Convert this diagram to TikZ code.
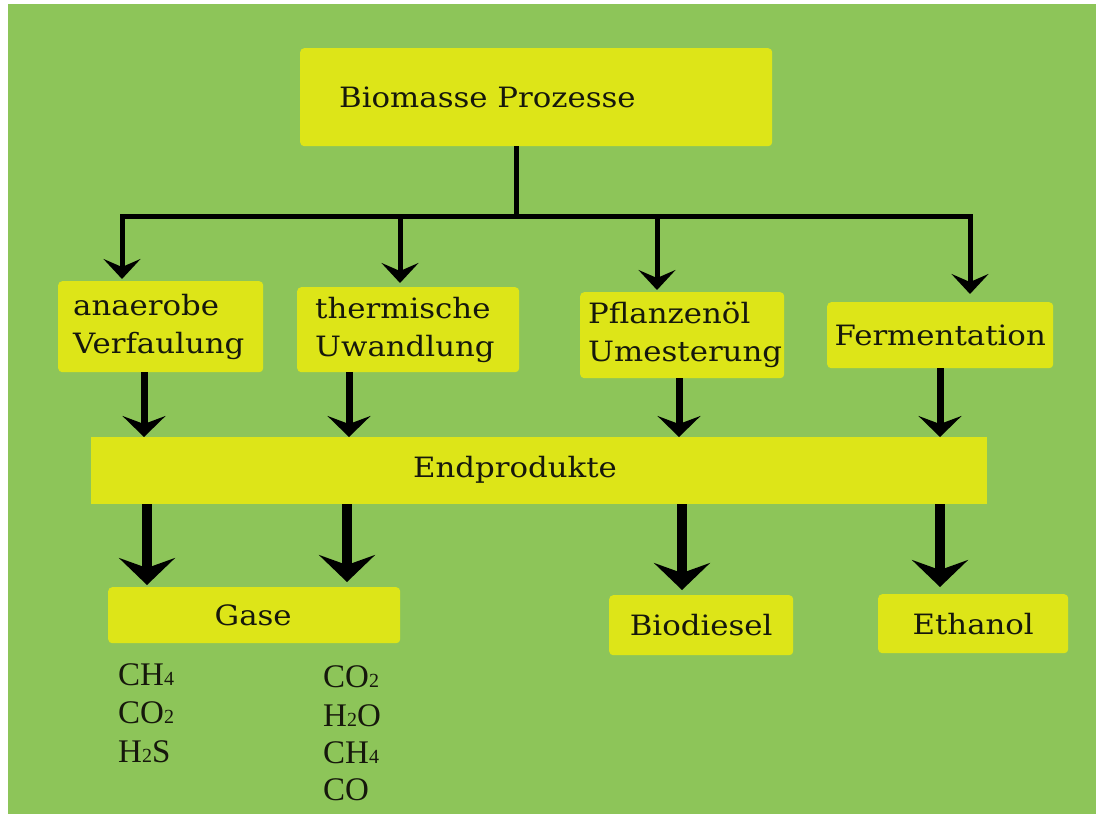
\documentclass[tikz,border=0pt]{standalone}
\usepackage{fontspec}
\setmainfont[FakeStretch=1.1]{DejaVu Serif}
\newfontfamily\chemfont{Liberation Serif}
\usetikzlibrary{arrows.meta}
\definecolor{bg}{RGB}{141,197,89}
\definecolor{boxy}{RGB}{221,229,24}
\definecolor{ink}{RGB}{22,24,12}
\newcommand\chs[1]{{\fontsize{20}{20}\selectfont #1}}
\begin{document}
\begin{tikzpicture}[x=1pt,y=-1pt,
  box/.style={fill=boxy, draw=none, rounded corners=4pt, inner sep=0pt, anchor=north west},
  lbl/.style={text=ink, font=\fontsize{28}{38}\selectfont, align=left, inner sep=0pt, anchor=west},
  chem/.style={text=ink, font=\chemfont\fontsize{33}{38}\selectfont, inner sep=0pt, anchor=base west},
  bar/.style={line width=5pt, line cap=rect},
  arrA/.style={line width=5pt, -{Stealth[length=20pt,width=37pt,inset=8pt]}},
  arrB/.style={line width=7pt, -{Stealth[length=21pt,width=43pt,inset=8pt]}},
  arrC/.style={line width=10pt, -{Stealth[length=27pt,width=56pt,inset=10pt]}}
]
\useasboundingbox (0,0) rectangle (1096,814);
\fill[white] (0,0) rectangle (1096,814);
\fill[bg] (8,4) rectangle (1096,814);

% boxes
\node[box, minimum width=472pt, minimum height=98pt] (top) at (300,48) {};
\node[box, minimum width=205pt, minimum height=91pt] (n1) at (58,281) {};
\node[box, minimum width=222pt, minimum height=85pt] (n2) at (297,287) {};
\node[box, minimum width=204pt, minimum height=86pt] (n3) at (580,292) {};
\node[box, minimum width=226pt, minimum height=66pt] (n4) at (827,302) {};
\node[box, minimum width=896pt, minimum height=67pt, rounded corners=0pt] (end) at (91,437) {};
\node[box, minimum width=292pt, minimum height=56pt] (gas) at (108,587) {};
\node[box, minimum width=184pt, minimum height=60pt] (bio) at (609,595) {};
\node[box, minimum width=190pt, minimum height=59pt] (eth) at (878,594) {};

% labels
\node[lbl] (ttop) at ([xshift=39pt]top.west) {Biomasse Prozesse};
\node[lbl] (t1) at ([xshift=15pt]n1.west) {anaerobe\\Verfaulung};
\node[lbl] (t2) at ([xshift=18pt]n2.west) {thermische\\Uwandlung};
\node[lbl] (t3) at ([xshift=8pt]n3.west) {Pflanzenöl\\Umesterung};
\node[lbl, anchor=center] (t4) at (n4.center) {Fermentation};
\node[lbl, anchor=center] (tend) at (515,470) {Endprodukte};
\node[lbl, anchor=center] (tgas) at ([xshift=-1pt]gas.center) {Gase};
\node[lbl, anchor=center] (tbio) at (bio.center) {Biodiesel};
\node[lbl, anchor=center] (teth) at (eth.center) {Ethanol};

% top tree
\coordinate (jt) at (516,216);
\coordinate (j1) at (122,216);
\coordinate (j2) at (400,216);
\coordinate (j3) at (657,216);
\coordinate (j4) at (970,216);
\draw[line width=5pt] (jt |- top.south) -- (jt);
\draw[bar] (j1) -- (j4);
\draw[arrA, shorten >=2pt] (j1) -- (j1 |- n1.north);
\draw[arrA, shorten >=4pt] (j2) -- (j2 |- n2.north);
\draw[arrA, shorten >=2pt] (j3) -- (j3 |- n3.north);
\draw[arrA, shorten >=8pt] (j4) -- (j4 |- n4.north);

% middle arrows
\coordinate (m1) at (144,0);
\coordinate (m2) at (349,0);
\coordinate (m3) at (679,0);
\coordinate (m4) at (940,0);
\draw[arrB] (m1 |- n1.south) -- (m1 |- end.north);
\draw[arrB] (m2 |- n2.south) -- (m2 |- end.north);
\draw[arrB] (m3 |- n3.south) -- (m3 |- end.north);
\draw[arrB] (m4 |- n4.south) -- (m4 |- end.north);

% bottom arrows
\coordinate (b1) at (147,0);
\coordinate (b2) at (347,0);
\coordinate (b3) at (682,0);
\coordinate (b4) at (940,0);
\draw[arrC, shorten >=2pt] (b1 |- end.south) -- (b1 |- gas.north);
\draw[arrC, shorten >=5pt] (b2 |- end.south) -- (b2 |- gas.north);
\draw[arrC, shorten >=5pt] (b3 |- end.south) -- (b3 |- bio.north);
\draw[arrC, shorten >=7pt] (b4 |- end.south) -- (b4 |- eth.north);

% formulas
\node[chem] (f1) at (118,685) {CH\chs{4}};
\node[chem] (f2) at (118,723) {CO\chs{2}};
\node[chem] (f3) at (118,762) {H\chs{2}S};
\node[chem] (f4) at (323,687) {CO\chs{2}};
\node[chem] (f5) at (323,726) {H\chs{2}O};
\node[chem] (f6) at (323,763) {CH\chs{4}};
\node[chem] (f7) at (323,800) {CO};
\end{tikzpicture}
\end{document}
